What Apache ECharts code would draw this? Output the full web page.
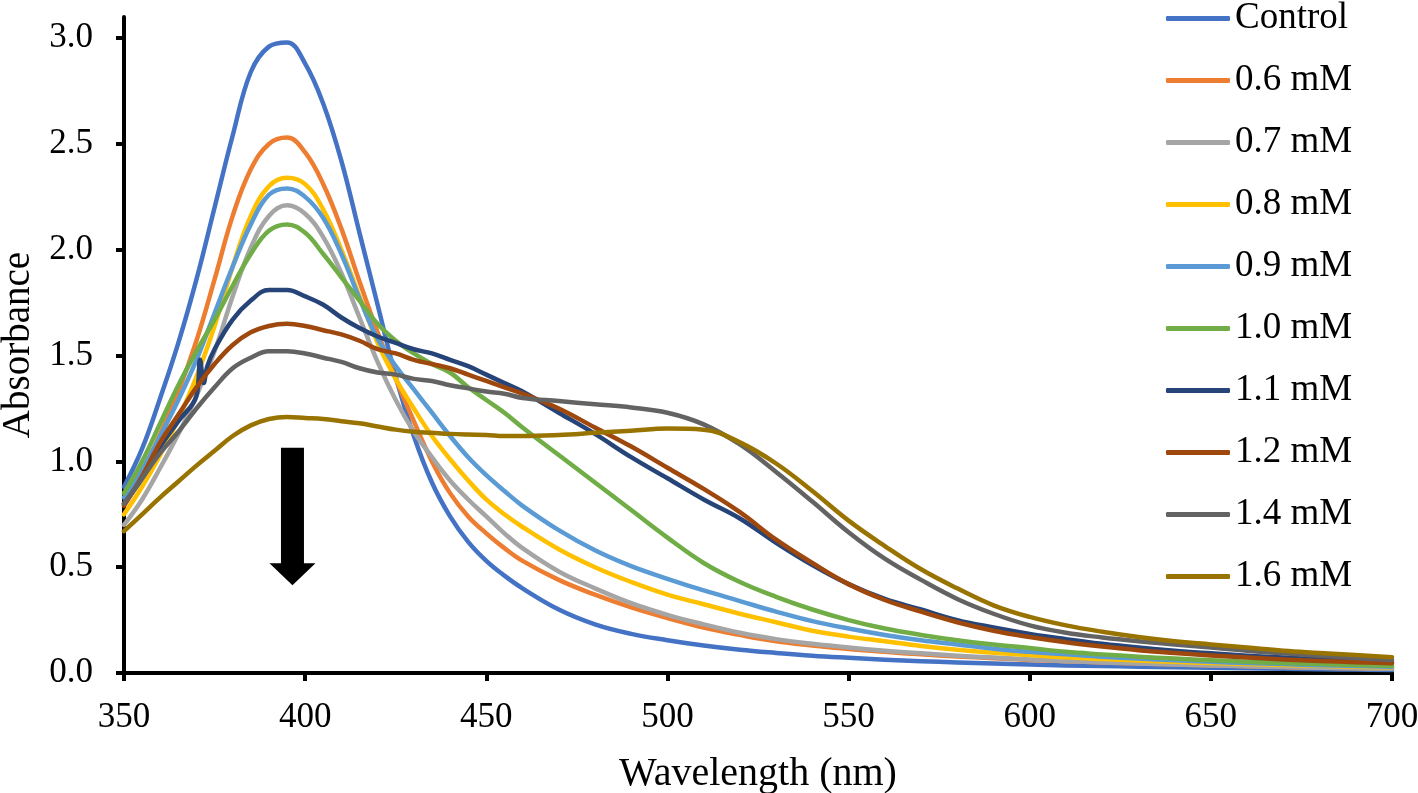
<!DOCTYPE html>
<html>
<head>
<meta charset="utf-8">
<script src="https://cdn.jsdelivr.net/npm/echarts@6/dist/echarts.min.js"></script>
<style>
  html, body { margin: 0; padding: 0; background: #fff; }
  #chart { width: 1418px; height: 793px; }
</style>
</head>
<body>
<div id="chart"></div>
<script>
// wavelength grid (nm)
const wavelength = [350,355,360,365,370,375,380,385,390,395,400,405,410,415,420,425,430,435,440,445,450,455,460,
  470,480,490,500,510,520,530,540,550,560,570,580,590,600,610,620,630,640,650,660,670,680,690,700];

const seriesNames = ['Control','0.6 mM','0.7 mM','0.8 mM','0.9 mM','1.0 mM','1.1 mM','1.2 mM','1.4 mM','1.6 mM'];
const seriesColors = ['#4472C4','#ED7D31','#A5A5A5','#FFC000','#5B9BD5','#70AD47','#264478','#9E480E','#636363','#997300'];

const control = [0.88,1.06,1.30,1.56,1.86,2.20,2.54,2.84,2.96,2.98,2.88,2.69,2.42,2.08,1.74,1.40,1.12,0.90,0.74,0.62,0.53,0.46,0.40,
  0.30,0.23,0.185,0.155,0.13,0.11,0.095,0.082,0.072,0.063,0.056,0.05,0.045,0.04,0.036,0.033,0.03,0.027,0.025,0.022,0.02,0.018,0.016,0.014];
const mM06 = [0.80,0.95,1.13,1.33,1.57,1.86,2.16,2.38,2.50,2.53,2.46,2.31,2.10,1.85,1.61,1.39,1.19,1.00,0.85,0.74,0.66,0.59,0.53,
  0.44,0.37,0.31,0.26,0.215,0.18,0.15,0.13,0.113,0.10,0.088,0.078,0.07,0.062,0.056,0.05,0.045,0.04,0.036,0.032,0.028,0.025,0.022,0.02];
const mM07 = [0.70,0.82,0.97,1.13,1.31,1.52,1.78,2.01,2.16,2.21,2.17,2.06,1.89,1.68,1.47,1.29,1.14,1.02,0.91,0.82,0.74,0.66,0.59,
  0.48,0.40,0.33,0.275,0.23,0.19,0.16,0.138,0.12,0.105,0.093,0.082,0.073,0.064,0.056,0.05,0.045,0.04,0.036,0.032,0.028,0.025,0.022,0.02];
const mM08 = [0.75,0.88,1.03,1.20,1.40,1.64,1.92,2.16,2.30,2.34,2.31,2.19,2.00,1.78,1.56,1.39,1.25,1.12,1.01,0.91,0.82,0.75,0.69,
  0.585,0.50,0.43,0.37,0.325,0.28,0.24,0.20,0.172,0.15,0.128,0.11,0.096,0.085,0.074,0.066,0.059,0.053,0.047,0.042,0.038,0.034,0.03,0.027];
const mM09 = [0.83,0.96,1.12,1.29,1.48,1.70,1.92,2.12,2.26,2.29,2.25,2.15,1.98,1.77,1.58,1.45,1.34,1.23,1.12,1.02,0.935,0.86,0.79,
  0.675,0.58,0.505,0.445,0.39,0.34,0.29,0.245,0.21,0.18,0.155,0.135,0.115,0.10,0.088,0.077,0.068,0.06,0.053,0.047,0.042,0.037,0.033,0.03];
const mM10 = [0.85,1.00,1.18,1.36,1.52,1.67,1.83,1.98,2.09,2.12,2.08,1.98,1.87,1.76,1.65,1.57,1.51,1.46,1.42,1.35,1.29,1.23,1.16,
  1.03,0.90,0.77,0.64,0.52,0.43,0.36,0.30,0.25,0.21,0.18,0.155,0.135,0.118,0.10,0.088,0.077,0.068,0.06,0.053,0.047,0.042,0.038,0.034];
const mM11 = [0.80,0.92,1.07,1.19,1.31,1.53,1.67,1.76,1.81,1.81,1.78,1.74,1.68,1.63,1.59,1.56,1.53,1.51,1.48,1.45,1.41,1.37,1.33,
  1.23,1.13,1.02,0.92,0.82,0.73,0.615,0.51,0.42,0.35,0.30,0.25,0.215,0.185,0.16,0.138,0.12,0.105,0.093,0.082,0.073,0.065,0.058,0.05];
// small spike in the 1.1 mM trace
const glitchNm = [371, 372, 373];
const glitchAbs = [1.48, 1.37, 1.45];
const mM12 = [0.79,0.93,1.09,1.22,1.35,1.46,1.55,1.61,1.64,1.65,1.64,1.62,1.60,1.57,1.53,1.51,1.48,1.46,1.44,1.41,1.38,1.35,1.32,
  1.25,1.16,1.07,0.97,0.87,0.76,0.63,0.52,0.42,0.345,0.29,0.24,0.20,0.17,0.145,0.125,0.108,0.095,0.083,0.073,0.064,0.057,0.051,0.046];
const mM14 = [0.80,0.92,1.04,1.14,1.25,1.35,1.44,1.49,1.52,1.52,1.51,1.49,1.47,1.44,1.42,1.41,1.39,1.38,1.36,1.345,1.33,1.32,1.30,
  1.285,1.27,1.255,1.23,1.175,1.08,0.95,0.81,0.665,0.54,0.44,0.35,0.28,0.225,0.19,0.168,0.15,0.135,0.12,0.105,0.093,0.082,0.071,0.062];
const mM16 = [0.67,0.75,0.83,0.905,0.98,1.05,1.12,1.17,1.20,1.21,1.205,1.20,1.19,1.18,1.165,1.15,1.14,1.135,1.13,1.127,1.125,1.12,1.12,
  1.125,1.135,1.145,1.155,1.15,1.09,0.99,0.86,0.72,0.60,0.49,0.40,0.32,0.265,0.225,0.195,0.17,0.15,0.135,0.12,0.105,0.095,0.085,0.075];

const yTicks = [0, 0.5, 1.0, 1.5, 2.0, 2.5, 3.0];

// arrow annotation (nm, top absorbance, tip absorbance)
const arrowNm = 396.5;
const arrowTop = 1.065;
const arrowTip = 0.415;

const allValues = [control, mM06, mM07, mM08, mM09, mM10, mM11, mM12, mM14, mM16];

function pairs(values) {
  return wavelength.map((w, i) => [w, values[i]]);
}

const seriesData = allValues.map(pairs);
// insert the spike into the 1.1 mM curve
glitchNm.forEach((w, i) => seriesData[6].push([w, glitchAbs[i]]));
seriesData[6].sort((a, b) => a[0] - b[0]);

const font = '"Liberation Serif", "Times New Roman", serif';

const lineSeries = seriesNames.map((name, i) => ({
  name: name,
  type: 'line',
  data: seriesData[i],
  symbol: 'none',
  smooth: 0.4,
  lineStyle: { width: 4.5, color: seriesColors[i], cap: 'round', join: 'round' },
  itemStyle: { color: seriesColors[i] }
}));

const arrowSeries = {
  type: 'custom',
  silent: true,
  data: [[arrowNm, arrowTop, arrowTip]],
  encode: { x: 0, y: [1, 2] },
  z: 10,
  renderItem: function (params, api) {
    const top = api.coord([api.value(0), api.value(1)]);
    const tip = api.coord([api.value(0), api.value(2)]);
    const cx = top[0];
    const sw = 11.5, hw = 23, hh = 22;
    return {
      type: 'polygon',
      shape: {
        points: [
          [cx - sw, top[1]], [cx + sw, top[1]], [cx + sw, tip[1] - hh], [cx + hw, tip[1] - hh],
          [cx, tip[1]], [cx - hw, tip[1] - hh], [cx - sw, tip[1] - hh]
        ]
      },
      style: { fill: '#000' }
    };
  }
};

const option = {
  animation: false,
  backgroundColor: '#fff',
  textStyle: { fontFamily: font },
  grid: { left: 124, right: 26, top: 17, bottom: 120, containLabel: false, outerBoundsMode: 'none' },
  legend: {
    orient: 'vertical',
    left: 1161,
    top: -5,
    data: seriesNames,
    icon: 'roundRect',
    itemWidth: 64,
    itemHeight: 5,
    itemGap: 25,
    itemTextGap: 6,
    textStyle: { fontFamily: font, fontSize: 37, color: '#000', lineHeight: 30 }
  },
  xAxis: {
    type: 'value',
    min: 350,
    max: 700,
    interval: 50,
    name: 'Wavelength (nm)',
    nameLocation: 'middle',
    nameGap: 81,
    nameTextStyle: { fontFamily: font, fontSize: 40, color: '#000' },
    axisLine: { lineStyle: { color: '#000', width: 4 } },
    axisTick: { length: 8, lineStyle: { color: '#000', width: 4 } },
    axisLabel: { fontFamily: font, fontSize: 35, color: '#000', margin: 27 },
    splitLine: { show: false }
  },
  yAxis: {
    type: 'value',
    min: 0,
    max: 3.1,
    name: 'Absorbance',
    nameLocation: 'middle',
    nameGap: 84,
    nameTextStyle: { fontFamily: font, fontSize: 39, color: '#000' },
    axisLine: { show: true, lineStyle: { color: '#000', width: 4 } },
    axisTick: { show: true, length: 8, customValues: yTicks, lineStyle: { color: '#000', width: 4 } },
    axisLabel: {
      fontFamily: font, fontSize: 35, color: '#000', margin: 31,
      customValues: yTicks,
      formatter: v => v.toFixed(1)
    },
    splitLine: { show: false }
  },
  series: lineSeries.concat([arrowSeries])
};

const myChart = echarts.init(document.getElementById('chart'));
myChart.setOption(option);
</script>
</body>
</html>
